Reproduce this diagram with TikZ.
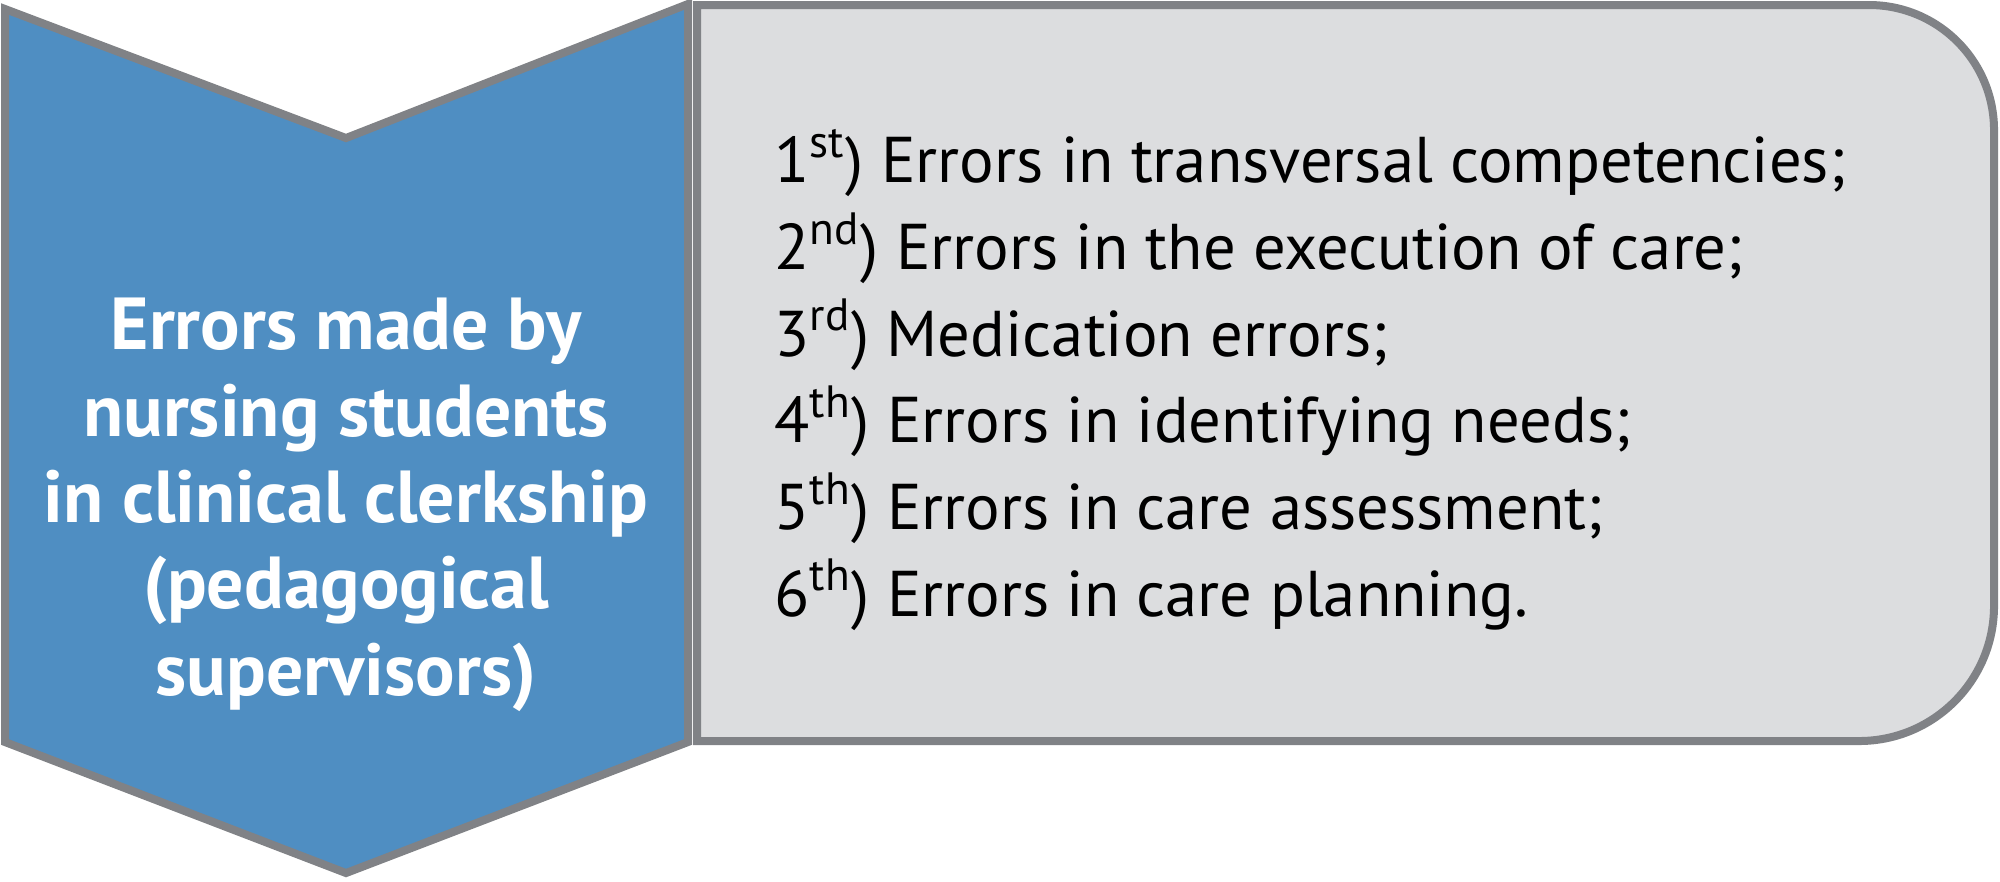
\documentclass[tikz,border=0pt]{standalone}
\usepackage{fontspec}
\setmainfont{PT Sans}
\definecolor{chevblue}{HTML}{4F8EC2}
\definecolor{boxgray}{HTML}{DCDDDF}
\definecolor{edgegray}{HTML}{808286}
\begin{document}
\begin{tikzpicture}[x=0.3pt,y=-0.3pt,
  shapeedge/.style={draw=edgegray,line width=2.4pt,line join=miter},
  headtext/.style={text=white,font=\bfseries\fontsize{22.1}{25.9}\selectfont,align=center,inner sep=0pt},
  listtext/.style={text=black,font=\fontsize{19.4}{26}\selectfont,align=left,inner sep=0pt}]
\useasboundingbox (0,0) rectangle (2000,881);
% list box
\draw[shapeedge,fill=boxgray] (697,5) -- (1869,5) arc[start angle=-90,end angle=0,radius=125]
  -- (1994,606) arc[start angle=0,end angle=90,radius=135] -- (697,741) -- cycle;
% chevron
\draw[shapeedge,fill=chevblue] (5,9) -- (346,138) -- (688,4) -- (688,742) -- (346,873) -- (5,742) -- cycle;
\node[headtext,anchor=base] (head) at (346,695)
  {Errors made by\\nursing students\\in clinical clerkship\\(pedagogical\\supervisors)};
\node[listtext,anchor=base west] (list) at (774,616)
  {1\textsuperscript{st}) Errors in transversal competencies;\\
   2\textsuperscript{nd}) Errors in the execution of care;\\
   3\textsuperscript{rd}) Medication errors;\\
   4\textsuperscript{th}) Errors in identifying needs;\\
   5\textsuperscript{th}) Errors in care assessment;\\
   6\textsuperscript{th}) Errors in care planning.};
\end{tikzpicture}
\end{document}
